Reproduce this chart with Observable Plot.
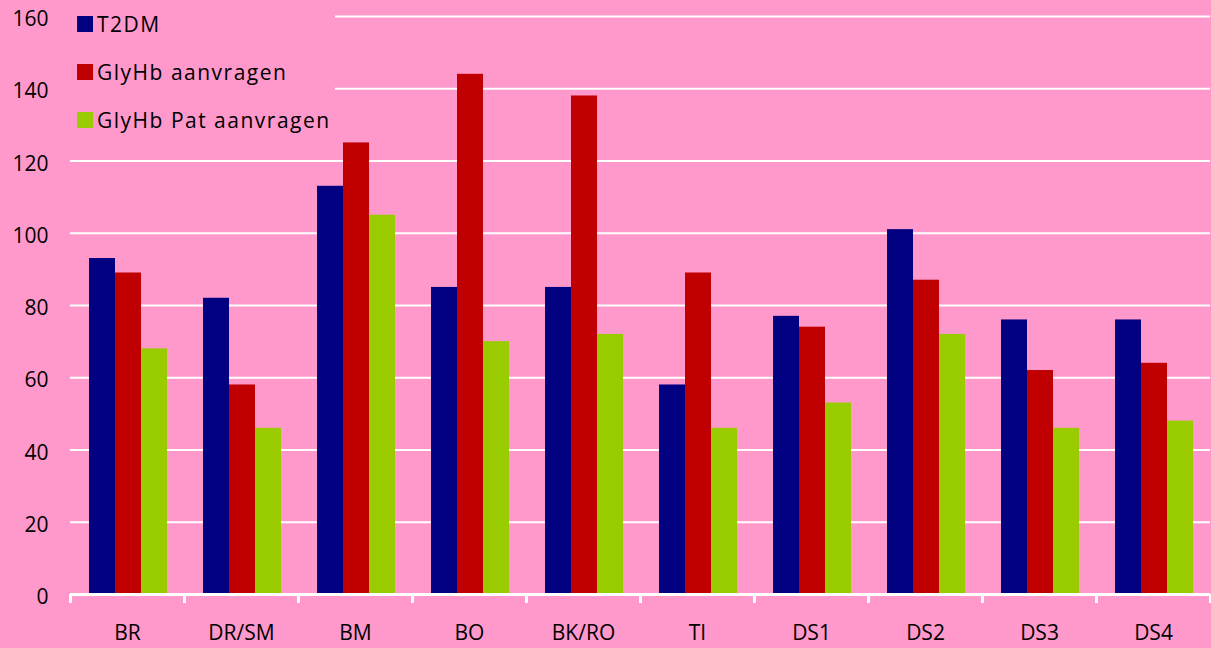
<!DOCTYPE html>
<html>
<head>
<meta charset="utf-8">
<script src="https://cdn.jsdelivr.net/npm/d3@7"></script>
<script src="https://cdn.jsdelivr.net/npm/@observablehq/plot@0.6"></script>
<style>
  html, body { margin: 0; padding: 0; background: #FF99CC; }
  #chart { position: relative; width: 1211px; height: 648px; font-family: "Open Sans", sans-serif; }
  #legend { position: absolute; left: 70px; top: 0; width: 265px; height: 140px; background: #FF99CC; }
  .item { position: absolute; left: 7px; height: 22px; display: flex; align-items: center;
          font-size: 21px; line-height: 22px; color: #000; letter-spacing: 1.5px; white-space: nowrap; }
  .sw { width: 16px; height: 16px; margin-right: 4px; flex: none; }
</style>
</head>
<body>
<div id="chart"><div id="legend"></div></div>
<script>
// Locations (x axis categories)
const categories = ["BR", "DR/SM", "BM", "BO", "BK/RO", "TI", "DS1", "DS2", "DS3", "DS4"];

// Series
const seriesNames = ["T2DM", "GlyHb aanvragen", "GlyHb Pat aanvragen"];
const t2dm      = [93, 82, 113, 85, 85, 58, 77, 101, 76, 76];
const glyhb     = [89, 58, 125, 144, 138, 89, 74, 87, 62, 64];
const glyhbPat  = [68, 46, 105, 70, 72, 46, 53, 72, 46, 48];
const seriesColors = ["#000080", "#C00000", "#99CC00"];

// Y axis tick values
const yTicks = [0, 20, 40, 60, 80, 100, 120, 140, 160];

const seriesValues = [t2dm, glyhb, glyhbPat];
const rows = categories.flatMap((category, i) =>
  seriesNames.map((series, j) => ({category, series, value: seriesValues[j][i]}))
);

// Grouped bars inside each category band
const band = 114, groupPad = 19, barW = 26;

const chart = Plot.plot({
  width: 1211,
  height: 648,
  marginLeft: 70,
  marginRight: 1,
  marginTop: 16,
  marginBottom: 54,
  style: {background: "#FF99CC", fontFamily: "'Open Sans', sans-serif", fontSize: "21px", color: "#000"},
  x: {domain: categories, padding: 0},
  y: {domain: [0, 160]},
  marks: [
    Plot.gridY(yTicks.slice(1), {stroke: "white", strokeOpacity: 1, strokeWidth: 2}),
    ...seriesNames.map((s, j) =>
      Plot.barY(rows.filter((r) => r.series === s), {
        x: "category",
        y: "value",
        fill: seriesColors[j],
        insetLeft: groupPad + j * barW,
        insetRight: band - groupPad - (j + 1) * barW
      })
    ),
    Plot.ruleY([0], {stroke: "white", strokeWidth: 3}),
    // tick marks on the category boundaries
    Plot.axisX({tickSize: 9, tickFormat: null, label: null, stroke: "white", strokeWidth: 3, dx: -band / 2}),
    Plot.axisX({ticks: [categories[categories.length - 1]], tickSize: 9, tickFormat: null, label: null, stroke: "white", strokeWidth: 3, dx: band / 2}),
    Plot.axisX({tickSize: 0, tickPadding: 31, label: null, fill: "#000"}),
    Plot.axisY({ticks: yTicks, tickSize: 0, tickPadding: 22, dy: 3, label: null, fill: "#000"})
  ]
});

const container = document.getElementById("chart");
container.insertBefore(chart, container.firstChild);

// Legend in the top-left corner of the plot area
const legend = document.getElementById("legend");
const legendTops = [13, 61, 109];
seriesNames.forEach((name, j) => {
  const item = document.createElement("div");
  item.className = "item";
  item.style.top = legendTops[j] + "px";
  const sw = document.createElement("span");
  sw.className = "sw";
  sw.style.background = seriesColors[j];
  const label = document.createElement("span");
  label.textContent = name;
  item.appendChild(sw);
  item.appendChild(label);
  legend.appendChild(item);
});
</script>
</body>
</html>
